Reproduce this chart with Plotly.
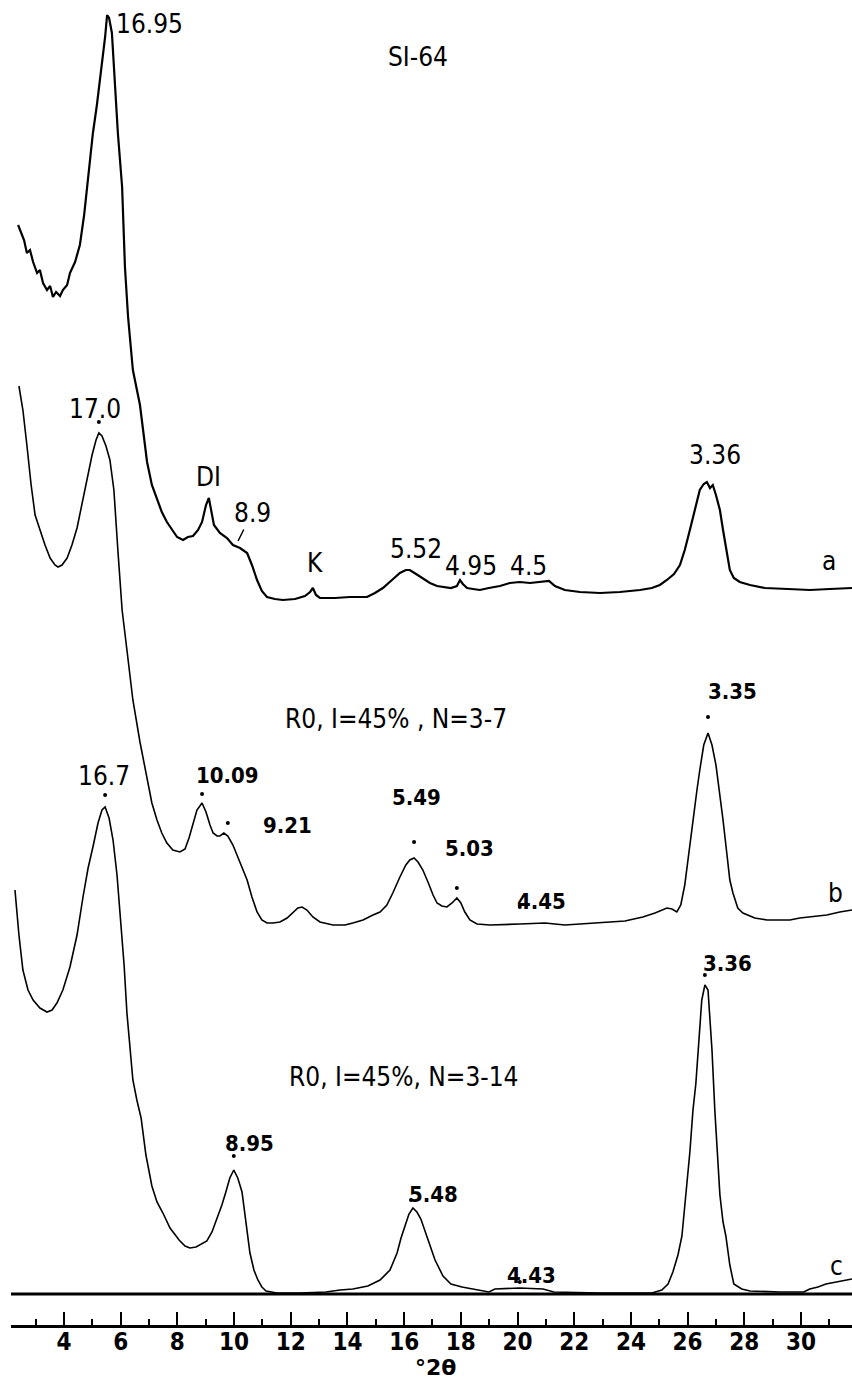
import numpy as np
import plotly.graph_objects as go

# ---------------------------------------------------------------------------
# Powder diffraction patterns of sample SI-64 (Cu K-alpha), three treatments.
# 2-theta in degrees, intensity in arbitrary units above each pattern's baseline.
# ---------------------------------------------------------------------------

# pattern a (measured, top)
a_2theta = [2.38, 2.48, 2.59, 2.69, 2.80, 2.91, 3.05, 3.15, 3.26, 3.40, 3.51, 3.61, 3.72,
            3.86, 3.96, 4.11, 4.21, 4.39, 4.56, 4.71, 4.81, 4.92, 5.02, 5.16, 5.27, 5.38,
            5.45, 5.52, 5.59, 5.69, 5.80, 5.90, 6.05, 6.15, 6.26, 6.43, 6.68, 6.93, 7.10,
            7.28, 7.45, 7.63, 7.81, 7.99, 8.20, 8.37, 8.55, 8.73, 8.87, 9.01, 9.11, 9.19,
            9.29, 9.50, 9.75, 9.96, 10.21, 10.46, 10.63, 10.81, 10.98, 11.16, 11.44, 11.72,
            12.15, 12.50, 12.68, 12.78, 12.89, 13.03, 13.56, 14.09, 14.69, 14.97, 15.25,
            15.57, 15.85, 16.06, 16.20, 16.42, 16.66, 16.91, 17.16, 17.44, 17.65, 17.86,
            17.97, 18.07, 18.22, 18.43, 18.67, 18.99, 19.38, 19.73, 20.08, 20.44, 20.79,
            21.11, 21.32, 21.67, 22.20, 22.91, 23.61, 24.32, 24.74, 25.02, 25.27, 25.52,
            25.73, 25.90, 26.08, 26.29, 26.43, 26.57, 26.68, 26.79, 26.89, 27.00, 27.14,
            27.25, 27.39, 27.49, 27.63, 27.84, 28.20, 28.73, 29.54, 30.31, 31.02, 31.80]
a_counts = [365, 358, 350, 337, 340, 328, 317, 320, 307, 300, 304, 293, 298,
            294, 300, 305, 317, 328, 345, 375, 403, 430, 457, 485, 510, 535,
            553, 575, 572, 557, 507, 457, 403, 323, 273, 220, 185, 128, 105,
            90, 78, 68, 60, 53, 50, 53, 54, 60, 68, 85, 92, 78,
            65, 57, 52, 45, 42, 37, 25, 10, -1, -7, -9, -10,
            -9, -6, -2, 2, -5, -8, -8, -7, -7, -3, 2,
            10, 17, 20, 20, 16, 12, 7, 4, 3, 2, 4,
            10, 6, 2, 1, 0, 2, 4, 7, 8, 7, 8,
            9, 4, 0, -2, -3, -2, 0, 2, 5, 10, 16,
            25, 40, 60, 85, 100, 106, 108, 102, 105, 95, 80,
            60, 35, 20, 12, 8, 5, 2, 1, 0, 1, 2]

# pattern b: R0, I=45%, N=3-7 (calculated)
b_2theta = [2.41, 2.55, 2.69, 2.84, 2.98, 3.15, 3.33, 3.51, 3.68, 3.79, 3.93, 4.11, 4.28,
            4.46, 4.63, 4.81, 4.99, 5.13, 5.23, 5.34, 5.48, 5.62, 5.76, 5.90, 6.05, 6.22,
            6.43, 6.68, 6.93, 7.10, 7.28, 7.45, 7.63, 7.84, 8.09, 8.27, 8.41, 8.55, 8.69,
            8.87, 9.01, 9.15, 9.26, 9.40, 9.50, 9.64, 9.78, 9.96, 10.21, 10.46, 10.63,
            10.81, 10.98, 11.16, 11.37, 11.62, 11.87, 12.08, 12.25, 12.40, 12.57, 12.78,
            13.03, 13.49, 13.91, 14.19, 14.55, 14.90, 15.15, 15.39, 15.60, 15.85, 16.06,
            16.20, 16.35, 16.49, 16.66, 16.84, 17.02, 17.16, 17.33, 17.51, 17.69, 17.86,
            18.00, 18.14, 18.32, 18.57, 19.03, 20.08, 20.97, 21.67, 22.91, 23.79, 24.42,
            24.85, 25.27, 25.45, 25.62, 25.76, 25.90, 26.05, 26.19, 26.33, 26.43, 26.57,
            26.72, 26.86, 27.00, 27.14, 27.25, 27.39, 27.49, 27.60, 27.77, 27.95, 28.37,
            28.80, 29.61, 29.96, 30.91, 31.37, 31.80]
b_counts = [534, 510, 475, 435, 405, 390, 375, 362, 355, 353, 355, 362, 375,
            392, 415, 440, 465, 480, 487, 484, 474, 460, 430, 370, 310, 270,
            220, 178, 140, 117, 100, 87, 77, 70, 68, 71, 82, 97, 110,
            117, 108, 95, 87, 84, 84, 87, 84, 75, 57, 40, 23,
            8, 0, -3, -3, -2, 2, 8, 12, 13, 10, 3,
            -2, -5, -5, -3, 0, 5, 8, 15, 27, 43, 55,
            60, 62, 58, 50, 38, 25, 17, 14, 13, 17, 22,
            17, 8, 0, -4, -5, -4, -3, -5, -3, -1, 3,
            7, 12, 11, 8, 15, 35, 70, 100, 130, 150, 175,
            187, 175, 155, 125, 100, 65, 40, 27, 12, 7, 2,
            0, 0, 2, 5, 8, 10]

# pattern c: R0, I=45%, N=3-14 (calculated)
c_2theta = [2.27, 2.41, 2.55, 2.73, 2.91, 3.15, 3.40, 3.58, 3.75, 3.96, 4.21, 4.46, 4.67,
            4.85, 5.02, 5.20, 5.34, 5.45, 5.59, 5.73, 5.87, 5.98, 6.12, 6.22, 6.33, 6.43,
            6.57, 6.72, 6.89, 7.10, 7.28, 7.49, 7.74, 8.06, 8.27, 8.44, 8.66, 8.87, 9.04,
            9.22, 9.40, 9.57, 9.71, 9.85, 9.99, 10.13, 10.28, 10.42, 10.56, 10.70, 10.84,
            10.98, 11.13, 11.51, 12.32, 13.24, 13.74, 14.19, 14.72, 15.15, 15.50, 15.75,
            15.89, 16.03, 16.17, 16.31, 16.45, 16.59, 16.80, 17.09, 17.37, 17.65, 18.04,
            18.43, 18.99, 19.20, 20.08, 20.90, 21.28, 22.91, 24.74, 25.09, 25.31, 25.48,
            25.66, 25.80, 25.94, 26.08, 26.19, 26.29, 26.40, 26.50, 26.61, 26.72, 26.79,
            26.86, 26.96, 27.04, 27.14, 27.25, 27.35, 27.49, 27.63, 27.91, 28.20, 29.26,
            30.10, 30.31, 30.60, 30.88, 31.37, 31.80]
c_counts = [402, 357, 322, 302, 292, 284, 280, 282, 289, 302, 325, 357, 395,
            424, 445, 469, 482, 485, 474, 452, 417, 379, 327, 279, 242, 212,
            192, 174, 137, 106, 90, 79, 64, 52, 46, 44, 45, 48, 51,
            60, 73, 87, 100, 114, 122, 114, 100, 72, 39, 22, 12,
            5, 1, -1, -1, 0, 2, 3, 6, 12, 22, 39,
            54, 66, 78, 84, 80, 73, 56, 32, 16, 8, 5,
            3, 0, 3, 4, 3, 0, -1, -1, 2, 8, 20,
            37, 56, 97, 140, 182, 208, 252, 292, 307, 302, 272,
            242, 182, 140, 97, 70, 56, 27, 8, 3, 1, 0,
            0, 3, 5, 8, 11, 13]

# peak marks: (2-theta of the mark, gap above the curve)
b_marks = [5.23, 8.87, 9.78, 16.35, 17.86, 20.08, 26.72]
b_gaps = [11, 9, 13, 16, 10, 17, 16]
c_marks = [5.45, 9.99, 16.24, 20.08, 26.61]
c_gaps = [12, 14, 11, 6, 10]

# vertical stacking of the three patterns
OFFSET_A, OFFSET_B, OFFSET_C = 735, 405, 33

X_RANGE = [2.13, 31.80]
W, H = 852, 1381
M_L, M_B = 11, 56
Y_TOP = H - M_B

THIN = "Liberation Sans Narrow, DejaVu Sans Condensed, Arial Narrow, sans-serif"
DOTM = "Liberation Sans Narrow, DejaVu Sans Condensed, Arial Narrow, sans-serif"

fig = go.Figure()

line_kw = dict(mode="lines", hoverinfo="skip", showlegend=False)
fig.add_trace(go.Scatter(x=a_2theta, y=np.array(a_counts) + OFFSET_A,
                         line=dict(color="black", width=2.2), **line_kw))
fig.add_trace(go.Scatter(x=b_2theta, y=np.array(b_counts) + OFFSET_B,
                         line=dict(color="black", width=1.6), **line_kw))
fig.add_trace(go.Scatter(x=c_2theta, y=np.array(c_counts) + OFFSET_C,
                         line=dict(color="black", width=1.6), **line_kw))

# small dots the plotter puts above labelled peaks
mk_x, mk_y = [], []
for tt, gap in zip(b_marks, b_gaps):
    mk_x.append(tt)
    mk_y.append(np.interp(tt, b_2theta, b_counts) + OFFSET_B + gap)
for tt, gap in zip(c_marks, c_gaps):
    mk_x.append(tt)
    mk_y.append(np.interp(tt, c_2theta, c_counts) + OFFSET_C + gap)
fig.add_trace(go.Scatter(x=mk_x, y=mk_y, mode="markers", hoverinfo="skip",
                         showlegend=False,
                         marker=dict(color="black", size=4, line=dict(width=0))))

# baseline under pattern c
fig.add_shape(type="line", xref="paper", yref="y", x0=0, x1=1,
              y0=OFFSET_C - 2, y1=OFFSET_C - 2, line=dict(color="black", width=3))


def label(text, x, y, size=26, bold=False, family=THIN, xanchor="center", **kw):
    fig.add_annotation(x=x, y=y, xref="x", yref="y", text=text, showarrow=False,
                       xanchor=xanchor, yanchor="middle",
                       font=dict(family=family, size=size, color="black",
                                 weight="bold" if bold else "normal"), **kw)


# pattern a
label("16.95", 7.0, 1301)
label("SI-64", 16.49, 1268)
label("DI", 9.08, 848)
fig.add_annotation(x=10.14, y=784, xref="x", yref="y", text="8.9", showarrow=True,
                   ax=14, ay=-28, arrowhead=0, arrowwidth=1.5, arrowcolor="black",
                   standoff=0, font=dict(family=THIN, size=26, color="black"))
label("K", 12.85, 762)
label("5.52", 16.42, 776)
label("4.95", 18.36, 759)
label("4.5", 20.40, 759)
label("3.36", 26.96, 870)
label("a", 30.98, 764)

# pattern b
label("17.0", 5.09, 916)
label("R0, I=45% , N=3-7", 11.72, 606, xanchor="left")
label("10.09", 9.78, 550, size=22, bold=True, family=DOTM)
label("9.21", 11.90, 500, size=22, bold=True, family=DOTM)
label("5.49", 16.45, 528, size=22, bold=True, family=DOTM)
label("5.03", 18.29, 477, size=22, bold=True, family=DOTM)
label("4.45", 20.83, 424, size=22, bold=True, family=DOTM)
label("3.35", 27.60, 634, size=22, bold=True, family=DOTM)
label("b", 31.23, 432)

# pattern c
label("16.7", 5.41, 549)
label("R0, I=45%, N=3-14", 11.87, 248, xanchor="left")
label("8.95", 10.56, 182, size=22, bold=True, family=DOTM)
label("5.48", 17.02, 131, size=22, bold=True, family=DOTM)
label("4.43", 20.51, 50, size=22, bold=True, family=DOTM)
label("3.36", 27.39, 362, size=22, bold=True, family=DOTM)
label("c", 31.27, 59)

# axis title
fig.add_annotation(x=17.09, y=0, xref="x", yref="paper", text="°2θ", showarrow=False,
                   yanchor="middle", yshift=-42,
                   font=dict(family="DejaVu Sans, sans-serif", size=22, color="black",
                             weight="bold"))

fig.update_layout(
    width=W, height=H,
    margin=dict(l=M_L, r=0, t=0, b=M_B, pad=0),
    paper_bgcolor="white", plot_bgcolor="white",
    xaxis=dict(range=X_RANGE, showgrid=False, zeroline=False,
               showline=True, linecolor="black", linewidth=3,
               ticks="inside", ticklen=13, tickwidth=2, tickcolor="black",
               tick0=0, dtick=2, ticklabelstandoff=-7,
               tickfont=dict(family=DOTM, size=24, color="black", weight="bold"),
               minor=dict(ticks="inside", ticklen=6, tickwidth=2, tickcolor="black",
                          tick0=1, dtick=2, showgrid=False)),
    yaxis=dict(range=[0, Y_TOP], visible=False, showgrid=False, zeroline=False),
)

fig.write_html("out.html")
